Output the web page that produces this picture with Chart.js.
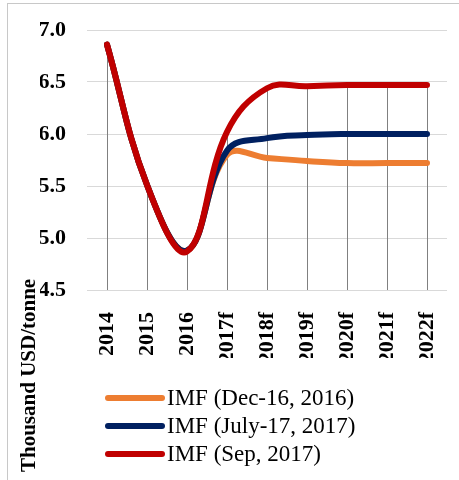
<!DOCTYPE html>
<html>
<head>
<meta charset="utf-8">
<script src="https://cdn.jsdelivr.net/npm/chart.js@4"></script>
<style>
  body { margin: 0; background: #fff; }
  #frame { position: absolute; left: 7px; top: 3px; right: 0; bottom: 0;
           border-left: 1px solid #c8c8c8; border-top: 1px solid #c8c8c8; }
  #chart { position: absolute; left: 0; top: 0; }
</style>
</head>
<body>
<div id="frame"></div>
<canvas id="chart" width="459" height="480"></canvas>
<script>
const years = ['2014', '2015', '2016', '2017f', '2018f', '2019f', '2020f', '2021f', '2022f'];
const imfDec16 = [6.86, 5.51, 4.88, 5.80, 5.77, 5.74, 5.72, 5.72, 5.72];
const imfJul17 = [6.86, 5.51, 4.88, 5.84, 5.96, 5.99, 6.00, 6.00, 6.00];
const imfSep17 = [6.86, 5.51, 4.87, 6.02, 6.44, 6.46, 6.47, 6.47, 6.47];
const seriesNames = ['IMF (Dec-16, 2016)', 'IMF (July-17, 2017)', 'IMF (Sep, 2017)'];
const seriesColors = ['#ED7D31', '#002060', '#C00000'];

const serif = "'Liberation Serif', 'Times New Roman', serif";

// excel style drop lines from the highest series down to the axis
const dropLines = {
    id: 'dropLines',
    beforeDatasetsDraw(chart) {
        const { ctx, chartArea, scales } = chart;
        ctx.save();
        ctx.strokeStyle = '#808080';
        ctx.lineWidth = 1;
        years.forEach((y, i) => {
            const top = Math.max(...chart.data.datasets.map(d => d.data[i]));
            const x = Math.round(scales.x.getPixelForValue(i)) + 0.5;
            ctx.beginPath();
            ctx.moveTo(x, scales.y.getPixelForValue(top));
            ctx.lineTo(x, chartArea.bottom);
            ctx.stroke();
        });
        ctx.restore();
    }
};

// axis title sits low in the original, and legend is a left aligned column
const extras = {
    id: 'extras',
    afterDraw(chart) {
        const { ctx, chartArea } = chart;
        ctx.save();
        ctx.translate(35, 472);
        ctx.rotate(-Math.PI / 2);
        ctx.font = 'bold 21px ' + serif;
        ctx.fillStyle = '#000';
        ctx.textAlign = 'left';
        ctx.textBaseline = 'alphabetic';
        ctx.fillText('Thousand USD/tonne', 0, 0);
        ctx.restore();

        ctx.save();
        const x0 = chartArea.left + 21;
        ctx.font = '23px ' + serif;
        ctx.textBaseline = 'middle';
        ctx.lineCap = 'round';
        ctx.lineWidth = 6;
        seriesNames.forEach((name, i) => {
            const y = 398 + i * 28;
            ctx.strokeStyle = seriesColors[i];
            ctx.beginPath();
            ctx.moveTo(x0, y);
            ctx.lineTo(x0 + 54, y);
            ctx.stroke();
            ctx.fillStyle = '#000';
            ctx.fillText(name, x0 + 59, y + 1);
        });
        ctx.restore();
    }
};

const mkSet = (i, data, order) => ({
    label: seriesNames[i],
    data: data,
    borderColor: seriesColors[i],
    backgroundColor: seriesColors[i],
    borderWidth: 6,
    borderCapStyle: 'round',
    borderJoinStyle: 'round',
    pointRadius: 0,
    tension: 0.4,
    order: order
});

new Chart(document.getElementById('chart'), {
    type: 'line',
    data: {
        labels: years,
        datasets: [mkSet(0, imfDec16, 2), mkSet(1, imfJul17, 1), mkSet(2, imfSep17, 0)]
    },
    options: {
        responsive: false,
        animation: false,
        layout: { padding: { left: 40, right: 12, top: 30, bottom: 122 } },
        plugins: { legend: { display: false }, tooltip: { enabled: false } },
        scales: {
            x: {
                offset: true,
                grid: { display: false, drawTicks: false },
                border: { display: false },
                ticks: {
                    minRotation: 90, maxRotation: 90, padding: 22,
                    color: '#000', font: { family: serif, size: 22, weight: 'bold' }
                },
                afterFit: s => { s.height = 68; s.paddingLeft = 0; s.paddingRight = 0; }
            },
            y: {
                min: 4.5, max: 7.0,
                grid: { color: '#d9d9d9', drawTicks: false },
                border: { display: false },
                ticks: {
                    stepSize: 0.5, padding: 21, color: '#000',
                    font: { family: serif, size: 22, weight: 'bold' },
                    callback: v => v.toFixed(1)
                },
                afterFit: s => { s.width = 47; s.paddingTop = 0; s.paddingBottom = 0; }
            }
        }
    },
    plugins: [dropLines, extras]
});
</script>
</body>
</html>
